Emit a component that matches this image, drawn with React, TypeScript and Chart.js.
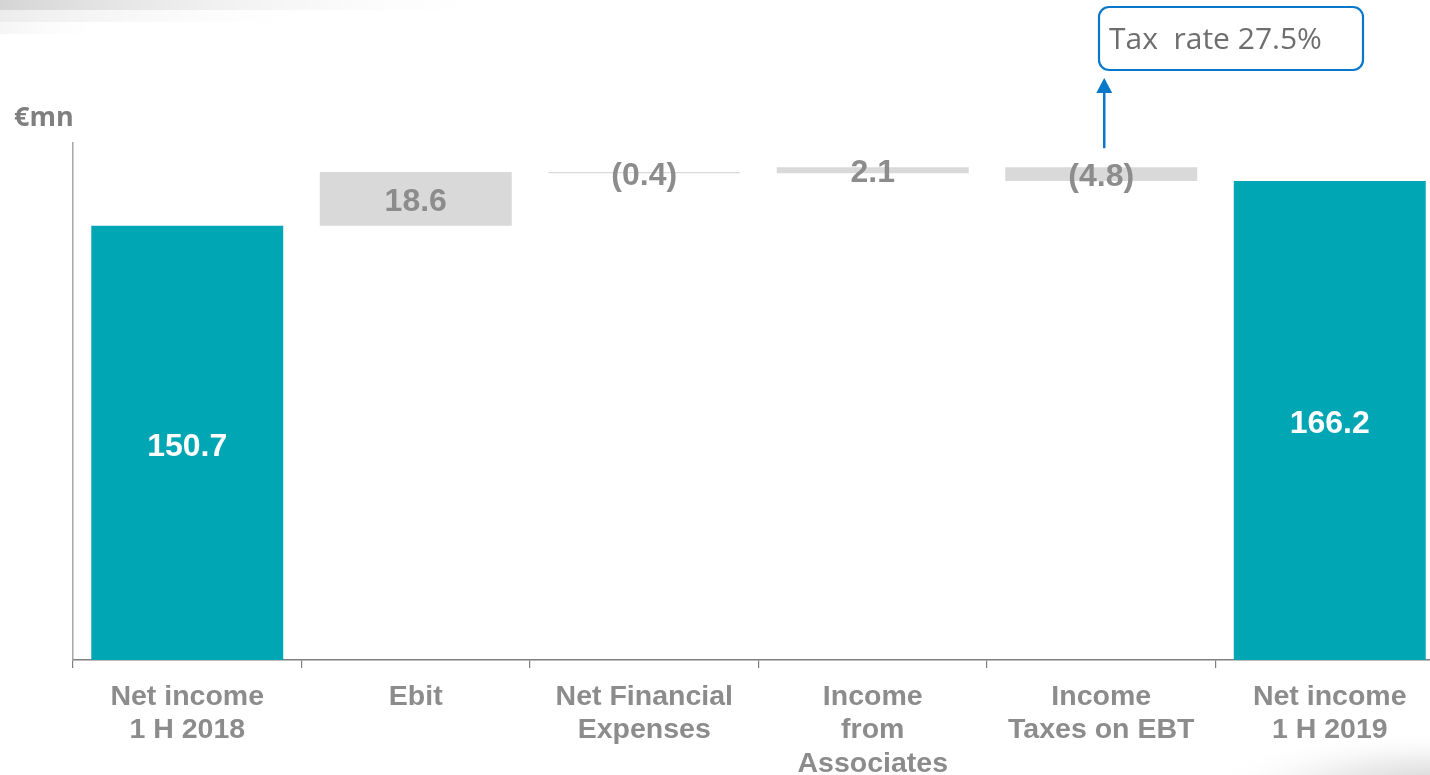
import React, { useEffect, useRef } from "react";
import { Chart, registerables } from "chart.js";

Chart.register(...registerables);

const categories: string[][] = [
  ["Net income", "1 H 2018"],
  ["Ebit"],
  ["Net Financial", "Expenses"],
  ["Income", "from", "Associates"],
  ["Income", "Taxes on EBT"],
  ["Net income", "1 H 2019"],
];
const deltas: number[] = [150.7, 18.6, -0.4, 2.1, -4.8, 166.2];
const isTotal: boolean[] = [true, false, false, false, false, true];
const yMin = 0;
const yMax = 179.4;
const unitLabel = "€mn";
const annotationText = "Tax  rate 27.5%";
const annotatedIndex = 4;

const TEAL = "#00A6B4";
const GREY_BAR = "#D9D9D9";
const LABEL_GREY = "#8C8C8C";

function formatValue(v: number): string {
  const s = Math.abs(v).toFixed(1);
  return v < 0 ? `(${s})` : s;
}

function buildRanges(): [number, number][] {
  let running = 0;
  return deltas.map((d, i) => {
    if (isTotal[i]) {
      running = d;
      return [0, d] as [number, number];
    }
    const start = running;
    running += d;
    return [start, running] as [number, number];
  });
}

const decorPlugin = {
  id: "decor",
  beforeDraw(chart: any) {
    const ctx = chart.ctx as CanvasRenderingContext2D;
    ctx.save();
    // top-left gradient stripes
    let g = ctx.createLinearGradient(0, 0, 520, 0);
    g.addColorStop(0, "rgba(205,205,205,0.85)");
    g.addColorStop(1, "rgba(255,255,255,0)");
    ctx.fillStyle = g;
    ctx.fillRect(0, 0, 520, 10);
    g = ctx.createLinearGradient(0, 0, 340, 0);
    g.addColorStop(0, "rgba(228,228,228,0.7)");
    g.addColorStop(1, "rgba(255,255,255,0)");
    ctx.fillStyle = g;
    ctx.fillRect(0, 10, 340, 12);
    g = ctx.createLinearGradient(0, 0, 120, 0);
    g.addColorStop(0, "rgba(238,238,238,0.6)");
    g.addColorStop(1, "rgba(255,255,255,0)");
    ctx.fillStyle = g;
    ctx.fillRect(0, 22, 120, 12);
    ctx.restore();
    // bottom-right soft elliptical gradient
    ctx.save();
    ctx.translate(1440, 790);
    ctx.scale(4, 1);
    const rg = ctx.createRadialGradient(0, 0, 0, 0, 0, 60);
    rg.addColorStop(0, "rgba(200,200,200,0.95)");
    rg.addColorStop(0.5, "rgba(225,225,225,0.6)");
    rg.addColorStop(1, "rgba(255,255,255,0)");
    ctx.fillStyle = rg;
    ctx.fillRect(-70, -70, 140, 140);
    ctx.restore();
  },
};

const labelsPlugin = {
  id: "waterfallLabels",
  afterDatasetsDraw(chart: any) {
    const ctx = chart.ctx as CanvasRenderingContext2D;
    const meta = chart.getDatasetMeta(0);
    ctx.save();
    ctx.font = "bold 32px 'Liberation Sans', Arial, sans-serif";
    ctx.textAlign = "center";
    ctx.textBaseline = "middle";
    meta.data.forEach((bar: any, i: number) => {
      const cy = (bar.y + bar.base) / 2;
      ctx.fillStyle = isTotal[i] ? "#FFFFFF" : LABEL_GREY;
      ctx.fillText(formatValue(deltas[i]), bar.x, cy + (isTotal[i] ? 4 : 3));
    });

    // unit label
    ctx.font = "bold 27px 'Open Sans', sans-serif";
    ctx.textAlign = "left";
    ctx.fillStyle = "#7F7F7F";
    ctx.fillText(unitLabel, 14, 118);

    // annotation arrow
    const target = meta.data[annotatedIndex];
    const ax = target.x + 3;
    const topOfBar = Math.min(target.y, target.base);
    const ay0 = topOfBar - 19;
    const ay1 = 78;
    ctx.strokeStyle = "#0A78C8";
    ctx.fillStyle = "#0A78C8";
    ctx.lineWidth = 2.5;
    ctx.beginPath();
    ctx.moveTo(ax, ay0);
    ctx.lineTo(ax, ay1 + 12);
    ctx.stroke();
    ctx.beginPath();
    ctx.moveTo(ax, ay1);
    ctx.lineTo(ax - 8, ay1 + 15);
    ctx.lineTo(ax + 8, ay1 + 15);
    ctx.closePath();
    ctx.fill();

    // annotation box
    const bx = 1099, by = 7, bw = 264, bh = 63, r = 10;
    ctx.lineWidth = 2.2;
    ctx.beginPath();
    ctx.moveTo(bx + r, by);
    ctx.lineTo(bx + bw - r, by);
    ctx.arcTo(bx + bw, by, bx + bw, by + r, r);
    ctx.lineTo(bx + bw, by + bh - r);
    ctx.arcTo(bx + bw, by + bh, bx + bw - r, by + bh, r);
    ctx.lineTo(bx + r, by + bh);
    ctx.arcTo(bx, by + bh, bx, by + bh - r, r);
    ctx.lineTo(bx, by + r);
    ctx.arcTo(bx, by, bx + r, by, r);
    ctx.closePath();
    ctx.fillStyle = "#FFFFFF";
    ctx.fill();
    ctx.stroke();
    ctx.fillStyle = "#6E6E6E";
    ctx.font = "30px 'Open Sans', sans-serif";
    ctx.textAlign = "left";
    ctx.textBaseline = "middle";
    ctx.fillText(annotationText, 1109, 40);
    ctx.restore();
  },
};

export default function App() {
  const canvasRef = useRef<HTMLCanvasElement | null>(null);

  useEffect(() => {
    const canvas = canvasRef.current;
    if (!canvas) return;
    const ranges = buildRanges();
    const chart = new Chart(canvas, {
      type: "bar",
      data: {
        labels: categories as any,
        datasets: [
          {
            data: ranges as any,
            backgroundColor: isTotal.map((t) => (t ? TEAL : GREY_BAR)),
            borderWidth: 0,
            borderSkipped: false,
            barPercentage: 0.84,
            categoryPercentage: 1,
          },
        ],
      },
      options: {
        responsive: false,
        animation: false,
        devicePixelRatio: 1,
        layout: { padding: { left: 73, top: 143, right: 0, bottom: 0 } },
        plugins: {
          legend: { display: false },
          tooltip: { enabled: false },
        },
        scales: {
          x: {
            offset: true,
            grid: {
              display: true,
              offset: true,
              drawOnChartArea: false,
              drawTicks: true,
              tickLength: 8,
              color: "#7F7F7F",
              lineWidth: 1.2,
            },
            border: { display: true, color: "#7F7F7F", width: 1.5 },
            ticks: {
              color: LABEL_GREY,
              padding: 13,
              maxRotation: 0,
              autoSkip: false,
              font: {
                family: "'Liberation Sans', Arial, sans-serif",
                size: 28.5,
                weight: "bold",
                lineHeight: 1.16,
              },
            },
            afterFit: (s: any) => {
              s.height = 115;
            },
          },
          y: {
            min: yMin,
            max: yMax,
            ticks: { display: false },
            grid: { display: false },
            border: { display: true, color: "#A6A6A6", width: 1.5 },
            afterFit: (s: any) => {
              s.width = 0;
            },
          },
        },
      },
      plugins: [decorPlugin, labelsPlugin],
    });
    return () => chart.destroy();
  }, []);

  return (
    <div
      style={{
        position: "fixed",
        left: 0,
        top: 0,
        width: 1430,
        height: 775,
        overflow: "hidden",
        background: "#FFFFFF",
      }}
    >
      <canvas
        ref={canvasRef}
        width={1444}
        height={775}
        style={{ display: "block", width: 1444, height: 775 }}
      />
    </div>
  );
}
